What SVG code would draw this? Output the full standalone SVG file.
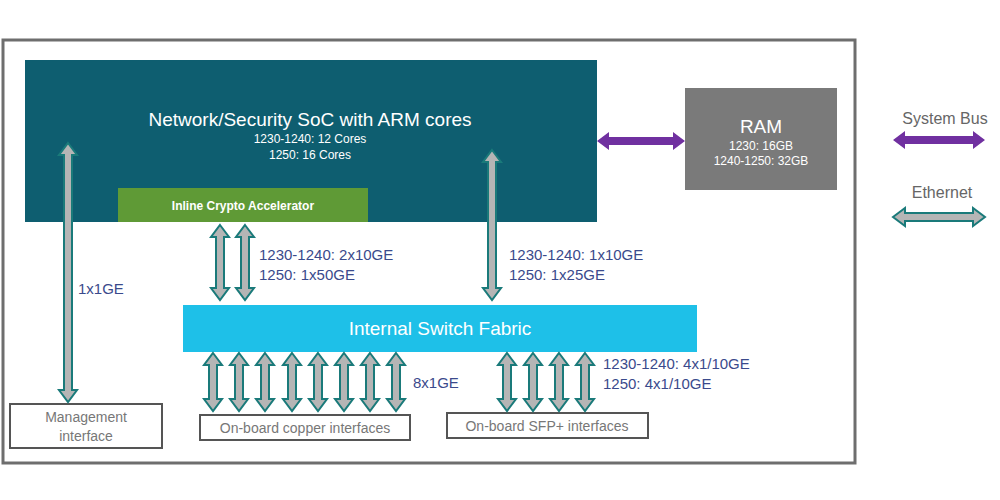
<svg xmlns="http://www.w3.org/2000/svg" xmlns:xlink="http://www.w3.org/1999/xlink" width="1000" height="500" viewBox="0 0 1000 500">
<style>
text{font-family:"Liberation Sans",Arial,sans-serif}
.eth{fill:#b5b5b5;stroke:#1a7a7a;stroke-width:2}
.bus{fill:#7030a0}
.lbl{fill:#3a4a8c;font-size:15px}
.box{fill:#fff;stroke:#555;stroke-width:2}
.btx{fill:#777;font-size:14px;text-anchor:middle}
</style>
<defs>
<path id="e58" d="M0,0 L9,12 L4,12 L4,46 L9,46 L0,58 L-9,46 L-4,46 L-4,12 L-9,12 Z"/>
</defs>
<rect x="0" y="0" width="1000" height="500" fill="#fff"/>
<rect x="3" y="40" width="852" height="423" fill="#fff" stroke="#6e6e6e" stroke-width="3"/>
<g id="soc">
<rect x="25" y="60" width="572" height="162" fill="#0e5e70"/>
<text x="310" y="126" fill="#fff" font-size="19" text-anchor="middle">Network/Security SoC with ARM cores</text>
<text x="310" y="143" fill="#fff" font-size="12" text-anchor="middle">1230-1240: 12 Cores</text>
<text x="310" y="159" fill="#fff" font-size="12" text-anchor="middle">1250: 16 Cores</text>
</g>
<g id="crypto">
<rect x="118" y="188" width="250" height="34" fill="#5f9a36"/>
<text x="243" y="210" fill="#fff" font-size="12" font-weight="bold" text-anchor="middle">Inline Crypto Accelerator</text>
</g>
<g id="ram">
<rect x="685" y="88" width="152" height="102" fill="#7a7a7a"/>
<text x="761" y="133" fill="#fff" font-size="19" text-anchor="middle">RAM</text>
<text x="761" y="150" fill="#fff" font-size="12" text-anchor="middle">1230: 16GB</text>
<text x="761" y="165" fill="#fff" font-size="12" text-anchor="middle">1240-1250: 32GB</text>
</g>
<g id="fabric">
<rect x="183" y="305" width="514" height="47" fill="#1ec0e8"/>
<text x="440" y="335" fill="#fff" font-size="19" text-anchor="middle">Internal Switch Fabric</text>
</g>
<g id="mgmt">
<rect class="box" x="10" y="404" width="152" height="44"/>
<text class="btx" x="86" y="422">Management</text>
<text class="btx" x="86" y="441">interface</text>
</g>
<g id="copper">
<rect class="box" x="200" y="415" width="210" height="25"/>
<text class="btx" x="305" y="433">On-board copper interfaces</text>
</g>
<g id="sfp">
<rect class="box" x="447" y="413" width="201" height="25"/>
<text class="btx" x="547" y="431">On-board SFP+ interfaces</text>
</g>
<g id="legend">
<text x="945" y="124" fill="#666" font-size="16" text-anchor="middle">System Bus</text>
<path class="bus" d="M893,140 L905,131 L905,136 L973,136 L973,131 L985,140 L973,149 L973,144 L905,144 L905,149 Z"/>
<text x="942" y="198" fill="#666" font-size="16" text-anchor="middle">Ethernet</text>
<path class="eth" d="M893,217 L905,208 L905,213 L973,213 L973,208 L985,217 L973,226 L973,221 L905,221 L905,226 Z"/>
</g>
<g id="connectors">
<path class="bus" d="M597,141 L609,132 L609,137 L673,137 L673,132 L685,141 L673,150 L673,145 L609,145 L609,150 Z"/>
<path class="eth" d="M68,143 L77,155 L72,155 L72,390 L77,390 L68,402 L59,390 L64,390 L64,155 L59,155Z"/>
<path class="eth" d="M492,150 L501,162 L496,162 L496,288 L501,288 L492,300 L483,288 L488,288 L488,162 L483,162Z"/>
<path class="eth" d="M220,225 L229,237 L224,237 L224,288 L229,288 L220,300 L211,288 L216,288 L216,237 L211,237Z"/>
<path class="eth" d="M245,225 L254,237 L249,237 L249,288 L254,288 L245,300 L236,288 L241,288 L241,237 L236,237Z"/>
<use xlink:href="#e58" class="eth" x="213" y="353"/>
<use xlink:href="#e58" class="eth" x="239" y="353"/>
<use xlink:href="#e58" class="eth" x="265" y="353"/>
<use xlink:href="#e58" class="eth" x="292" y="353"/>
<use xlink:href="#e58" class="eth" x="318" y="353"/>
<use xlink:href="#e58" class="eth" x="344" y="353"/>
<use xlink:href="#e58" class="eth" x="370" y="353"/>
<use xlink:href="#e58" class="eth" x="396" y="353"/>
<use xlink:href="#e58" class="eth" x="507" y="353"/>
<use xlink:href="#e58" class="eth" x="533" y="353"/>
<use xlink:href="#e58" class="eth" x="559" y="353"/>
<use xlink:href="#e58" class="eth" x="585" y="353"/>
<text class="lbl" x="78" y="294">1x1GE</text>
<text class="lbl" x="259" y="260">1230-1240: 2x10GE</text>
<text class="lbl" x="259" y="280">1250: 1x50GE</text>
<text class="lbl" x="509" y="260">1230-1240: 1x10GE</text>
<text class="lbl" x="509" y="280">1250: 1x25GE</text>
<text class="lbl" x="413" y="388">8x1GE</text>
<text class="lbl" x="603" y="369">1230-1240: 4x1/10GE</text>
<text class="lbl" x="603" y="389">1250: 4x1/10GE</text>
</g>
</svg>
